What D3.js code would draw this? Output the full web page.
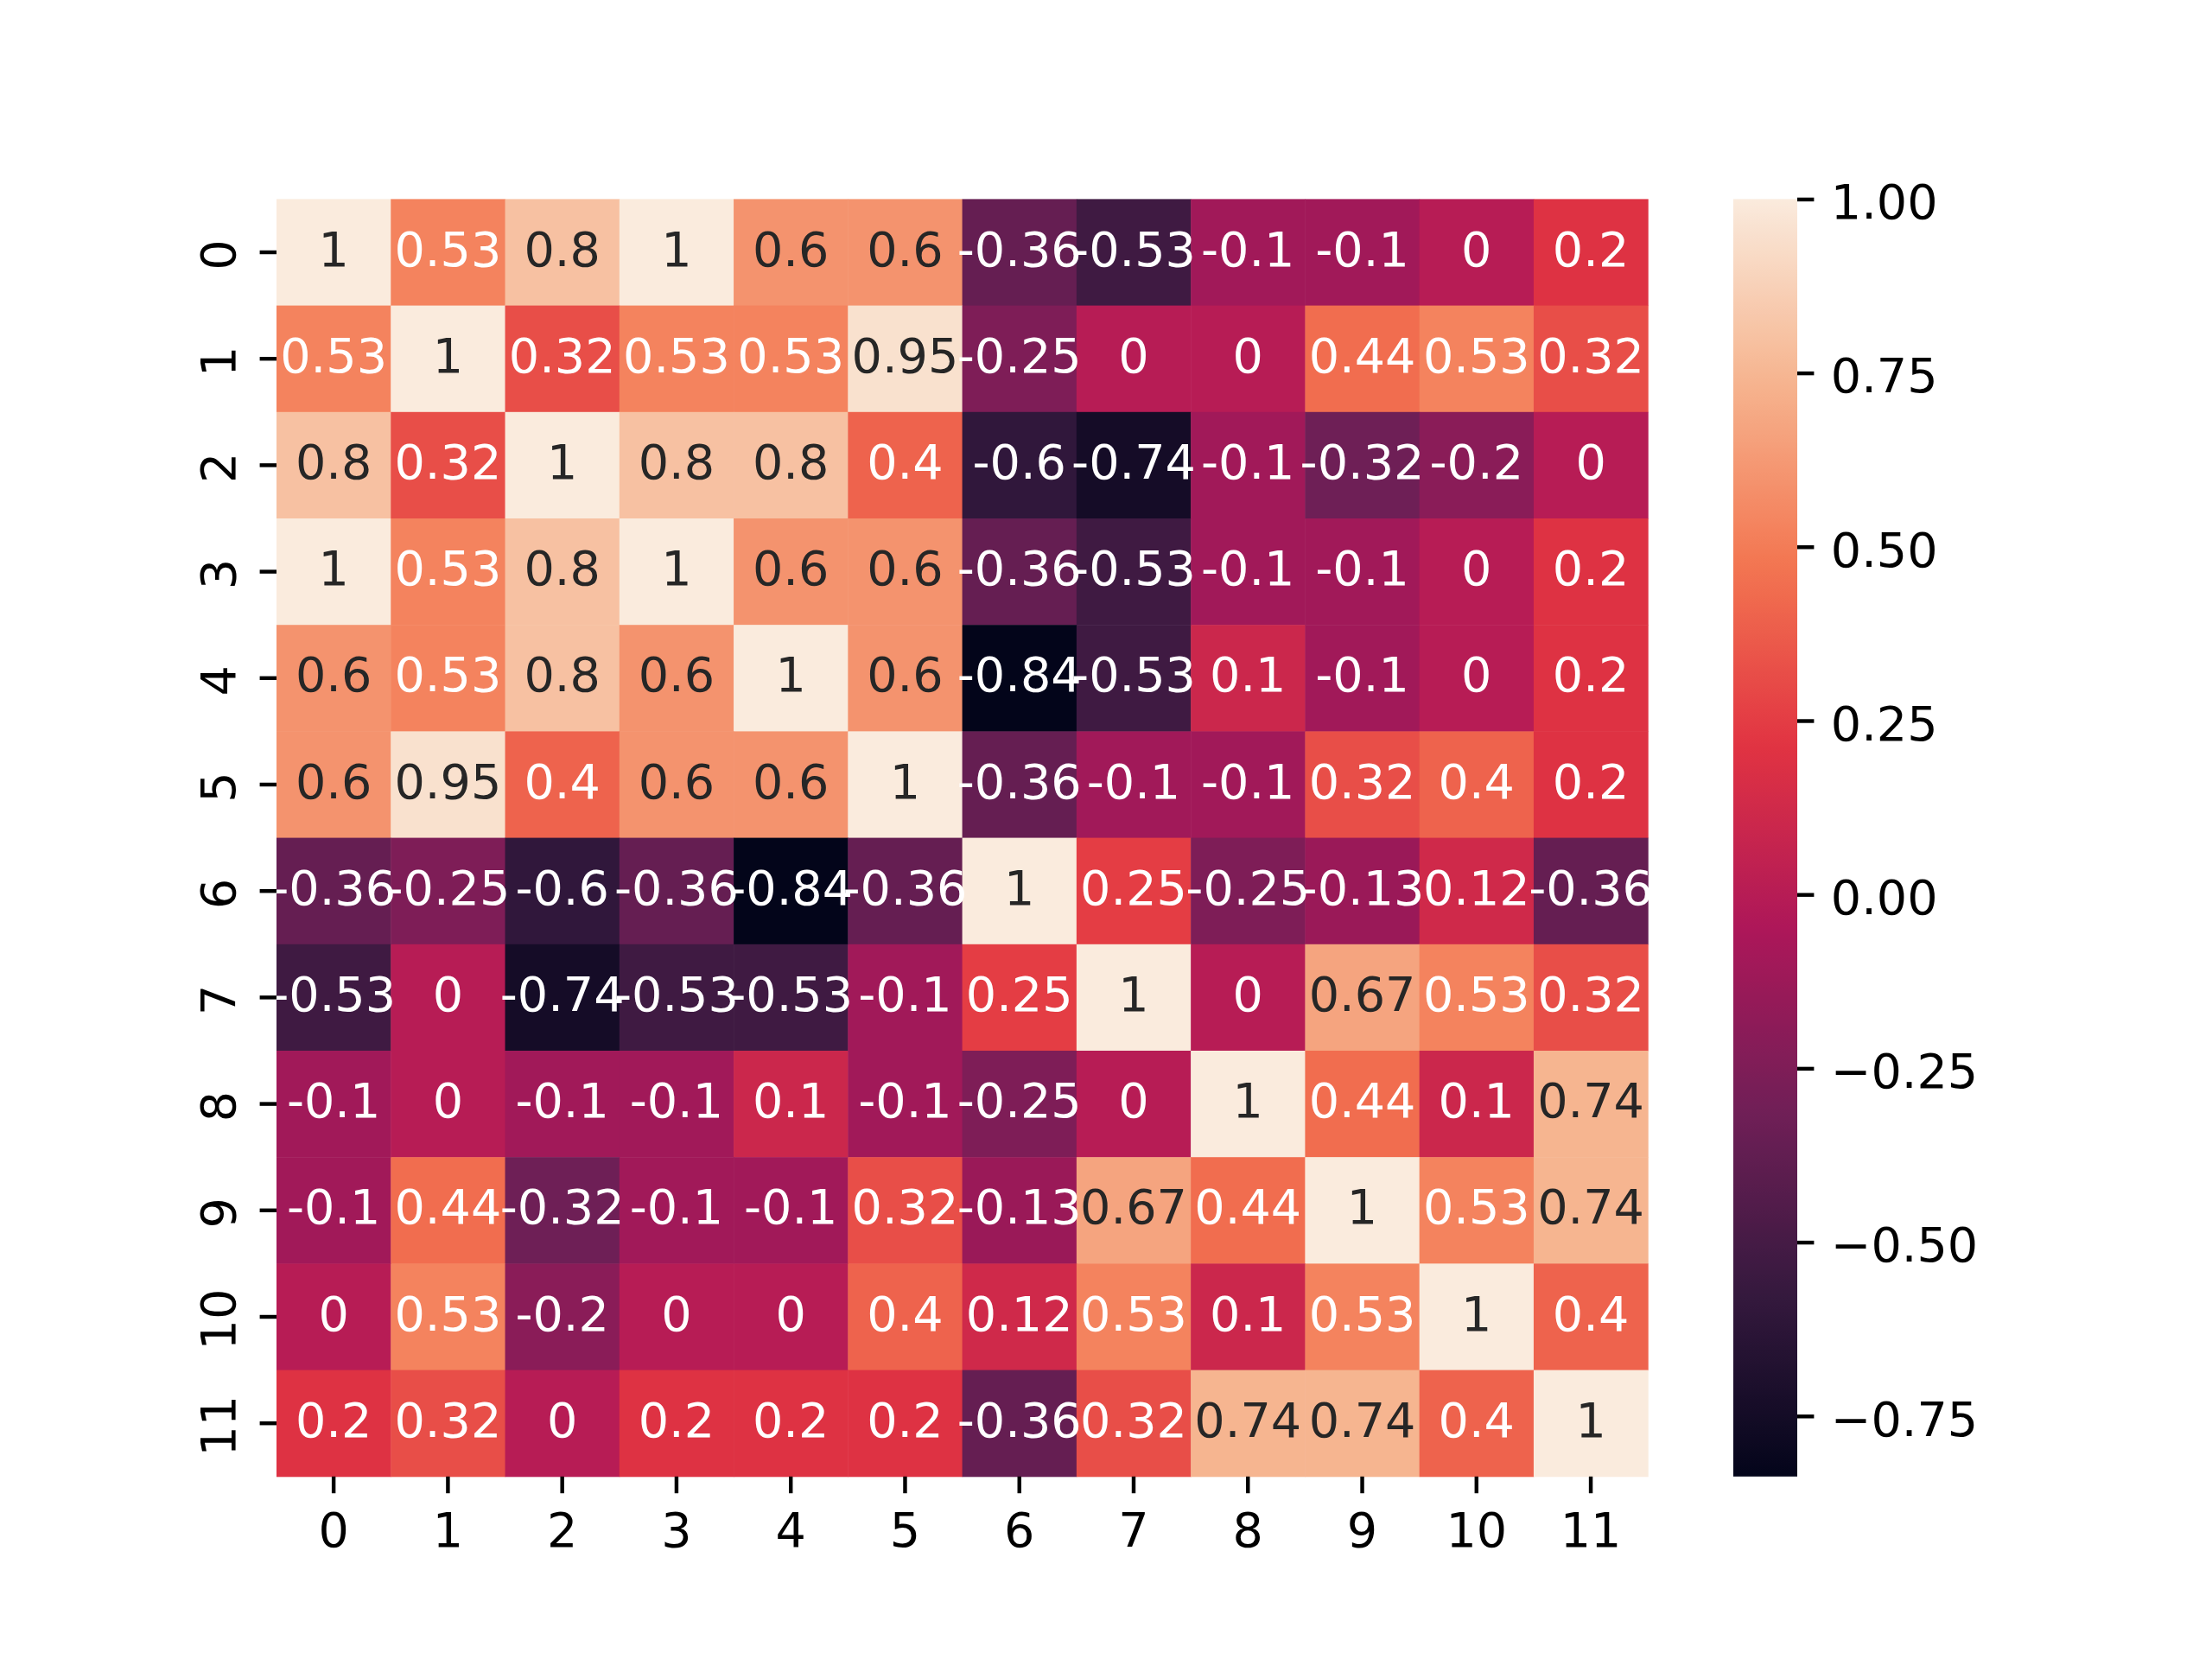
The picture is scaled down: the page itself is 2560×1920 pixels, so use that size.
<!DOCTYPE html>
<html>
<head>
<meta charset="utf-8">
<script src="https://cdn.jsdelivr.net/npm/d3@7"></script>
<style>
  body { margin: 0; background: #fff; }
  text { font-family: "DejaVu Sans", sans-serif; }
</style>
</head>
<body>
<svg id="heat"></svg>
<script>
// row / column labels
const rowLabels = ["0", "1", "2", "3", "4", "5", "6", "7", "8", "9", "10", "11"];
const colLabels = ["0", "1", "2", "3", "4", "5", "6", "7", "8", "9", "10", "11"];

// correlation values, one array per row
const row0  = [1, 0.53, 0.8, 1, 0.6, 0.6, -0.36, -0.53, -0.1, -0.1, 0, 0.2];
const row1  = [0.53, 1, 0.32, 0.53, 0.53, 0.95, -0.25, 0, 0, 0.44, 0.53, 0.32];
const row2  = [0.8, 0.32, 1, 0.8, 0.8, 0.4, -0.6, -0.74, -0.1, -0.32, -0.2, 0];
const row3  = [1, 0.53, 0.8, 1, 0.6, 0.6, -0.36, -0.53, -0.1, -0.1, 0, 0.2];
const row4  = [0.6, 0.53, 0.8, 0.6, 1, 0.6, -0.84, -0.53, 0.1, -0.1, 0, 0.2];
const row5  = [0.6, 0.95, 0.4, 0.6, 0.6, 1, -0.36, -0.1, -0.1, 0.32, 0.4, 0.2];
const row6  = [-0.36, -0.25, -0.6, -0.36, -0.84, -0.36, 1, 0.25, -0.25, -0.13, 0.12, -0.36];
const row7  = [-0.53, 0, -0.74, -0.53, -0.53, -0.1, 0.25, 1, 0, 0.67, 0.53, 0.32];
const row8  = [-0.1, 0, -0.1, -0.1, 0.1, -0.1, -0.25, 0, 1, 0.44, 0.1, 0.74];
const row9  = [-0.1, 0.44, -0.32, -0.1, -0.1, 0.32, -0.13, 0.67, 0.44, 1, 0.53, 0.74];
const row10 = [0, 0.53, -0.2, 0, 0, 0.4, 0.12, 0.53, 0.1, 0.53, 1, 0.4];
const row11 = [0.2, 0.32, 0, 0.2, 0.2, 0.2, -0.36, 0.32, 0.74, 0.74, 0.4, 1];
const values = [row0, row1, row2, row3, row4, row5, row6, row7, row8, row9, row10, row11];

// colour bar range and its ticks
const colorMin = -0.837;
const colorMax = 1;
const cbarTicks = [-0.75, -0.5, -0.25, 0, 0.25, 0.5, 0.75, 1];

// rocket colormap anchors
const rocket = ["#03051a", "#35193e", "#701f57", "#ad1759", "#e13342", "#f37651", "#f6b48f", "#faebdd"];

function drawHeatmap() {
  const W = 2560, H = 1920;
  const fs = 55.6;            // 10pt at 400 dpi
  const tickLen = 19.4, tickPad = 19.4, tickW = 4.44;
  const box = { left: 320, right: 1907.2, top: 230.4, bottom: 1708.8 };
  const cbar = { left: 2006, right: 2080 };

  const svg = d3.select('#heat')
    .attr('width', W)
    .attr('height', H);

  svg.append('rect').attr('width', W).attr('height', H).attr('fill', '#fff');

  const x = d3.scaleBand().domain(colLabels).range([box.left, box.right]);
  const y = d3.scaleBand().domain(rowLabels).range([box.top, box.bottom]);

  const interp = d3.piecewise(d3.interpolateRgb, rocket);
  const norm = d3.scaleLinear().domain([colorMin, colorMax]).range([0, 1]).clamp(true);
  const color = v => interp(norm(v));

  // seaborn picks the text colour from the cell luminance
  function lum(c) {
    const rgb = d3.rgb(c);
    const lin = u => { u /= 255; return u <= 0.03928 ? u / 12.92 : Math.pow((u + 0.055) / 1.055, 2.4); };
    return 0.2126 * lin(rgb.r) + 0.7152 * lin(rgb.g) + 0.0722 * lin(rgb.b);
  }

  const cells = [];
  values.forEach((row, i) => row.forEach((v, j) => cells.push({ r: rowLabels[i], c: colLabels[j], v })));

  svg.append('g').selectAll('rect')
    .data(cells)
    .enter().append('rect')
    .attr('x', d => x(d.c))
    .attr('y', d => y(d.r))
    .attr('width', x.bandwidth() + 0.5)
    .attr('height', y.bandwidth() + 0.5)
    .attr('fill', d => color(d.v));

  svg.append('g').selectAll('text')
    .data(cells)
    .enter().append('text')
    .attr('x', d => x(d.c) + x.bandwidth() / 2)
    .attr('y', d => y(d.r) + y.bandwidth() / 2)
    .attr('dy', '0.28em')
    .attr('text-anchor', 'middle')
    .attr('font-size', fs)
    .attr('fill', d => lum(color(d.v)) > 0.408 ? '#262626' : '#ffffff')
    .text(d => String(d.v));

  // x axis
  const gx = svg.append('g')
    .attr('transform', `translate(0,${box.bottom})`)
    .call(d3.axisBottom(x).tickSize(tickLen).tickPadding(tickPad));
  gx.select('.domain').remove();
  gx.selectAll('.tick line').attr('stroke', '#000').attr('stroke-width', tickW);
  gx.selectAll('.tick text')
    .attr('font-size', fs)
    .attr('font-family', '"DejaVu Sans", sans-serif')
    .attr('fill', '#000')
    .attr('dy', '0.76em');

  // y axis, labels turned vertical
  const gy = svg.append('g')
    .attr('transform', `translate(${box.left},0)`)
    .call(d3.axisLeft(y).tickSize(tickLen).tickPadding(tickPad));
  gy.select('.domain').remove();
  gy.selectAll('.tick line').attr('stroke', '#000').attr('stroke-width', tickW);
  gy.selectAll('.tick text')
    .attr('font-size', fs)
    .attr('font-family', '"DejaVu Sans", sans-serif')
    .attr('fill', '#000')
    .attr('text-anchor', 'middle')
    .attr('x', 0)
    .attr('dy', 0)
    .attr('transform', 'translate(-48,3) rotate(-90)');

  // colour bar
  const grad = svg.append('defs').append('linearGradient')
    .attr('id', 'cbgrad')
    .attr('x1', 0).attr('y1', 1).attr('x2', 0).attr('y2', 0);
  d3.range(0, 1.0001, 0.01).forEach(t => {
    grad.append('stop')
      .attr('offset', t)
      .attr('stop-color', interp(t));
  });

  const cy = d3.scaleLinear().domain([colorMin, colorMax]).range([box.bottom, box.top]);

  svg.append('rect')
    .attr('x', cbar.left)
    .attr('y', box.top)
    .attr('width', cbar.right - cbar.left)
    .attr('height', box.bottom - box.top)
    .attr('fill', 'url(#cbgrad)');

  const gc = svg.append('g')
    .attr('transform', `translate(${cbar.right},0)`)
    .call(d3.axisRight(cy).tickValues(cbarTicks).tickFormat(d3.format('.2f'))
      .tickSize(tickLen).tickPadding(tickPad));
  gc.select('.domain').remove();
  gc.selectAll('.tick line').attr('stroke', '#000').attr('stroke-width', tickW);
  gc.selectAll('.tick text')
    .attr('font-size', fs)
    .attr('font-family', '"DejaVu Sans", sans-serif')
    .attr('fill', '#000')
    .attr('dy', '0.40em');
}

drawHeatmap();
</script>
</body>
</html>
